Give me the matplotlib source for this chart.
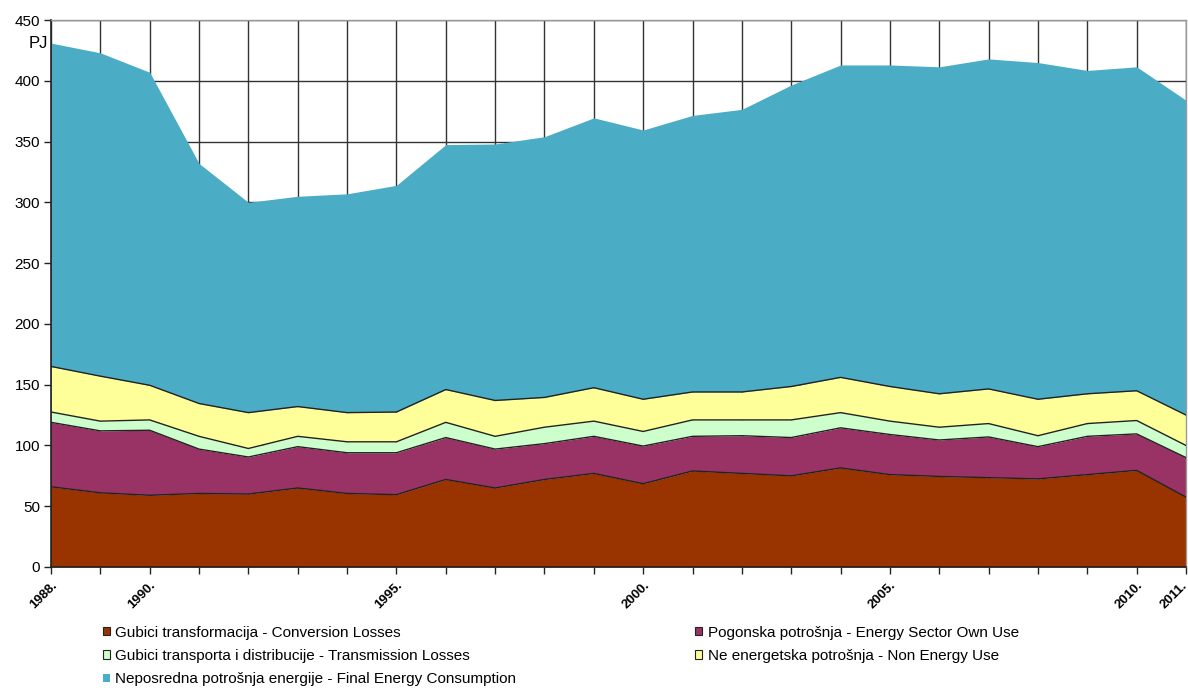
import numpy as np
import matplotlib
matplotlib.use("Agg")
import matplotlib.pyplot as plt
import matplotlib.transforms as mtransforms
from matplotlib.patches import Patch

plt.rcParams['font.family'] = ['Liberation Sans', 'DejaVu Sans']

# podaci (PJ)
years = np.arange(1988, 2012)
conversion = [66, 61, 59, 60.5, 60, 65, 60.5, 59.5, 72, 65, 72, 77, 68.5, 79, 77, 75, 81.5, 76, 74.5, 73.5, 72.5, 76, 79.5, 57.5]
own_use = [53, 51, 53.5, 36.5, 30.5, 34, 33.5, 34.5, 34.5, 32, 29.5, 30.5, 31, 28.5, 31, 31.5, 33, 33, 30, 33.5, 26.5, 31.5, 30, 32.5]
transmission = [8.5, 8, 8.5, 10.5, 7, 8.5, 9, 9, 12.5, 10.5, 13.5, 12.5, 12, 13.5, 13, 14.5, 12.5, 11, 10.5, 11, 9, 10.5, 11, 10]
non_energy = [37.5, 37, 28.5, 27, 29.5, 24.5, 24, 24.5, 27, 29.5, 24.5, 27.5, 26.5, 23, 23, 27.5, 29, 28.5, 27.5, 28.5, 30, 24.5, 24.5, 25]
final_cons = [266, 266, 257.5, 197.5, 173, 173, 180, 186.5, 201.5, 211, 214.5, 222, 221.5, 227.5, 232.5, 248, 257, 264.5, 269, 271.5, 277, 266, 266.5, 259]

labels = ["Gubici transformacija - Conversion Losses",
          "Pogonska potrošnja - Energy Sector Own Use",
          "Gubici transporta i distribucije - Transmission Losses",
          "Ne energetska potrošnja - Non Energy Use",
          "Neposredna potrošnja energije - Final Energy Consumption"]
colors = ['#993300', '#993366', '#CCFFCC', '#FFFF99', '#4BACC6']
label_years = [1988, 1990, 1995, 2000, 2005, 2010, 2011]

series = [conversion, own_use, transmission, non_energy, final_cons]

fig = plt.figure(figsize=(11.88, 6.88), dpi=100)
ax = fig.add_axes([51/1188, 1 - 567/688, 1135/1188, 547/688])

# grid ispod podrucja
ax.set_axisbelow(True)
ax.grid(True, color='#333333', linewidth=1.0)

base = np.zeros(len(years))
for i, (vals, col) in enumerate(zip(series, colors)):
    top = base + np.array(vals)
    ax.fill_between(years, base, top, color=col, linewidth=0, zorder=2)
    if i < 4:
        ax.plot(years, top, color='#222222', linewidth=1.0, zorder=3)
    base = top

ax.set_xlim(1988, 2011)
ax.set_ylim(0, 450)
ax.set_yticks(np.arange(0, 451, 50))
ax.set_xticks(years)
ax.set_xticklabels([f"{y}." if y in label_years else "" for y in years],
                   rotation=45, ha='right', va='top', rotation_mode='anchor',
                   fontsize=9.5, fontweight='bold')
ax.tick_params(axis='x', length=5, width=1, color='#222222', pad=4)
ax.tick_params(axis='y', length=5, width=1, color='#222222', labelsize=11, pad=3)

# zadnju oznaku malo ulijevo da ne izlazi van slike
shift = mtransforms.ScaledTranslation(-5/100, 0, fig.dpi_scale_trans)
lbl = ax.get_xticklabels()[-1]
lbl.set_transform(lbl.get_transform() + shift)

for s in ['left', 'bottom']:
    ax.spines[s].set_color('#222222')
    ax.spines[s].set_linewidth(1.2)
for s in ['top', 'right']:
    ax.spines[s].set_color('#999999')
    ax.spines[s].set_linewidth(1.0)

fig.text(29/1188, 1 - 44/688, "PJ", fontsize=12, va='center', ha='left')

handles = [Patch(facecolor=c, edgecolor='#222222', linewidth=0.8) for c in colors[:4]]
handles.append(Patch(facecolor=colors[4], edgecolor='none'))
order = [0, 2, 4, 1, 3]
fig.legend([handles[i] for i in order], [labels[i] for i in order],
           ncol=2, loc='upper left', bbox_to_anchor=(89/1188, 1 - 612/688),
           frameon=False, fontsize=11, handlelength=0.45, handleheight=0.45,
           handletextpad=0.35, labelspacing=0.6, columnspacing=11.75)

fig.savefig("out.png", dpi=100)
